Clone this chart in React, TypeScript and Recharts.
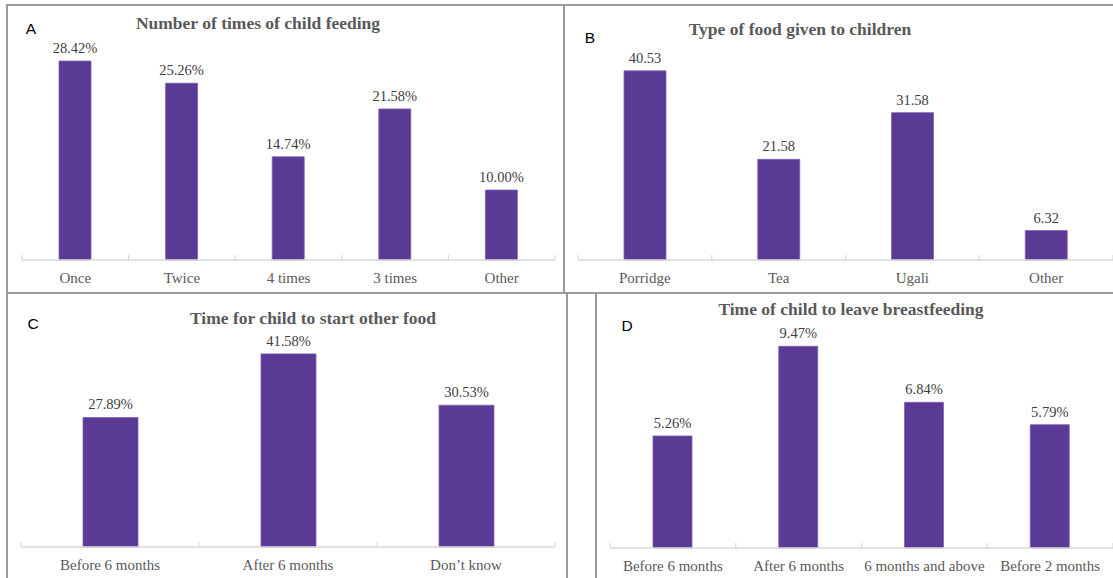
import { Bar, BarChart, LabelList, XAxis, YAxis } from 'recharts'

const feedingCategories = ['Once', 'Twice', '4 times', '3 times', 'Other']
const feedingValues = [28.42, 25.26, 14.74, 21.58, 10.0]

const foodCategories = ['Porridge', 'Tea', 'Ugali', 'Other']
const foodValues = [40.53, 21.58, 31.58, 6.32]

const startFoodCategories = ['Before 6 months', 'After 6 months', 'Don\u2019t know']
const startFoodValues = [27.89, 41.58, 30.53]

const leaveBreastCategories = ['Before 6 months', 'After 6 months', '6 months and above', 'Before 2 months']
const leaveBreastValues = [5.26, 9.47, 6.84, 5.79]

const BAR_COLOR = '#5b3a96'
const SERIF = "'Liberation Serif', 'Times New Roman', serif"
const SANS = "'Liberation Sans', Arial, sans-serif"

type Margin = { top: number; right: number; bottom: number; left: number }

interface PanelProps {
  categories: string[]
  values: number[]
  suffix: string
  yMax: number
  left: number
  top: number
  width: number
  height: number
  margin: Margin
  axisHeight: number
  barSize: number
}

function CategoryTick(props: any) {
  const { x, y, payload, index, band, count } = props
  const half = band / 2
  return (
    <g>
      <line x1={x - half} y1={y} x2={x - half} y2={y - 5} stroke="#d9d9d9" strokeWidth={1.2} />
      {index === count - 1 && (
        <line x1={x + half} y1={y} x2={x + half} y2={y - 5} stroke="#d9d9d9" strokeWidth={1.2} />
      )}
      <text
        x={x}
        y={y + 23}
        textAnchor="middle"
        fill="#595959"
        fontSize={15}
        fontFamily={SERIF}
      >
        {payload.value}
      </text>
    </g>
  )
}

function Panel({
  categories,
  values,
  suffix,
  yMax,
  left,
  top,
  width,
  height,
  margin,
  axisHeight,
  barSize,
}: PanelProps) {
  const data = categories.map((name, i) => ({ name, value: values[i] }))
  const band = (width - margin.left - margin.right) / categories.length
  return (
    <div style={{ position: 'absolute', left, top, width, height }}>
      <BarChart width={width} height={height} data={data} margin={margin}>
        <XAxis
          dataKey="name"
          height={axisHeight}
          axisLine={{ stroke: '#d9d9d9', strokeWidth: 1.5 }}
          tickLine={false}
          tickSize={0}
          tickMargin={0}
          interval={0}
          tick={(p: any) => <CategoryTick {...p} band={band} count={categories.length} />}
        />
        <YAxis hide domain={[0, yMax]} />
        <Bar
          dataKey="value"
          fill={BAR_COLOR}
          stroke="#7d62b3"
          strokeWidth={0.8}
          barSize={barSize}
          isAnimationActive={false}
        >
          <LabelList
            dataKey="value"
            content={(p: any) => (
              <text
                x={Number(p.x) + Number(p.width) / 2}
                y={Number(p.y) - 8}
                textAnchor="middle"
                fill="#404040"
                fontSize={14.5}
                fontFamily={SERIF}
              >
                {Number(p.value).toFixed(2) + suffix}
              </text>
            )}
          />
        </Bar>
      </BarChart>
    </div>
  )
}

function Title({ text, cx, cy }: { text: string; cx: number; cy: number }) {
  return (
    <div
      style={{
        position: 'absolute',
        left: cx - 200,
        top: cy - 10,
        width: 400,
        lineHeight: '20px',
        textAlign: 'center',
        fontFamily: SERIF,
        fontWeight: 'bold',
        fontSize: 17.5,
        color: '#595959',
        whiteSpace: 'nowrap',
      }}
    >
      {text}
    </div>
  )
}

function Letter({ text, cx, cy }: { text: string; cx: number; cy: number }) {
  return (
    <div
      style={{
        position: 'absolute',
        left: cx - 10,
        top: cy - 10,
        width: 20,
        lineHeight: '20px',
        textAlign: 'center',
        fontFamily: SANS,
        fontSize: 15.5,
        color: '#000',
      }}
    >
      {text}
    </div>
  )
}

function Rule({ x, y, w, h }: { x: number; y: number; w: number; h: number }) {
  return <div style={{ position: 'absolute', left: x, top: y, width: w, height: h, background: '#9a9a9a' }} />
}

export default function App() {
  return (
    <div
      style={{
        position: 'absolute',
        left: 0,
        top: 0,
        width: 1113,
        height: 578,
        background: '#fff',
        overflow: 'hidden',
      }}
    >
      {/* panel borders */}
      <Rule x={6} y={4} w={1107} h={2} />
      <Rule x={6} y={4} w={2} h={574} />
      <Rule x={563} y={4} w={2} h={290} />
      <Rule x={6} y={292} w={1107} h={2} />
      <Rule x={566} y={292} w={2} h={286} />
      <Rule x={595} y={292} w={2} h={286} />

      <Panel
        categories={feedingCategories}
        values={feedingValues}
        suffix="%"
        yMax={30}
        left={8}
        top={6}
        width={556}
        height={287}
        margin={{ top: 44, right: 9, bottom: 3, left: 14 }}
        axisHeight={30}
        barSize={32}
      />
      <Panel
        categories={foodCategories}
        values={foodValues}
        suffix=""
        yMax={45}
        left={565}
        top={6}
        width={548}
        height={287}
        margin={{ top: 44, right: 0, bottom: 3, left: 13 }}
        axisHeight={30}
        barSize={42}
      />
      <Panel
        categories={startFoodCategories}
        values={startFoodValues}
        suffix="%"
        yMax={45}
        left={8}
        top={294}
        width={559}
        height={284}
        margin={{ top: 44, right: 12, bottom: 1, left: 13 }}
        axisHeight={30}
        barSize={55}
      />
      <Panel
        categories={leaveBreastCategories}
        values={leaveBreastValues}
        suffix="%"
        yMax={10}
        left={597}
        top={294}
        width={516}
        height={284}
        margin={{ top: 41, right: 0, bottom: 1, left: 13 }}
        axisHeight={29}
        barSize={39}
      />

      <Title text="Number of times of child feeding" cx={258} cy={23} />
      <Title text="Type of food given to children" cx={800} cy={29} />
      <Title text="Time for child to start other food" cx={313} cy={318} />
      <Title text="Time of child to leave breastfeeding" cx={851} cy={309} />

      <Letter text="A" cx={31} cy={29} />
      <Letter text="B" cx={590} cy={38} />
      <Letter text="C" cx={33} cy={324} />
      <Letter text="D" cx={627} cy={326} />
    </div>
  )
}
